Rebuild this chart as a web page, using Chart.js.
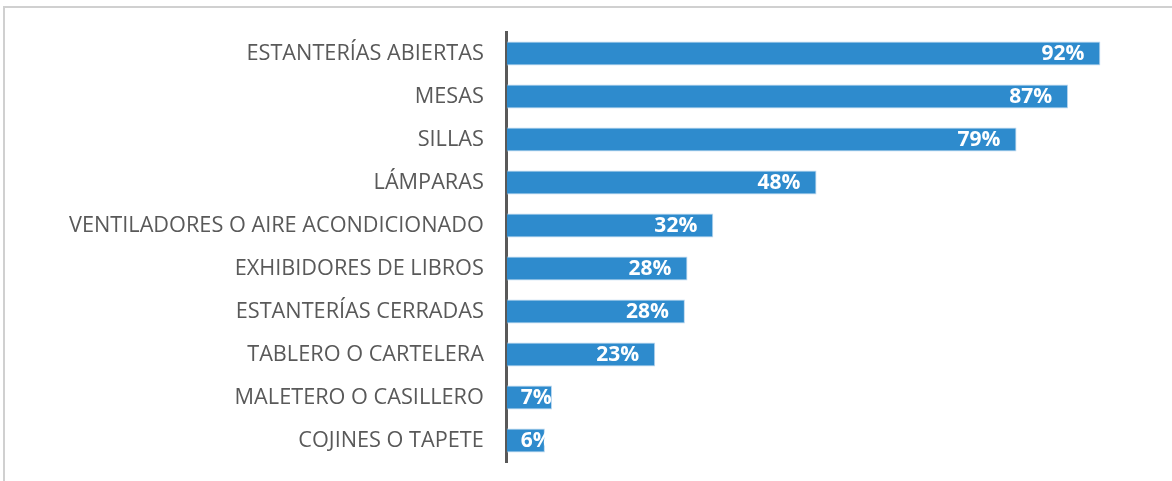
<!DOCTYPE html>
<html>
<head>
<meta charset="utf-8">
<script src="https://cdn.jsdelivr.net/npm/chart.js@4"></script>
<style>
  html, body { margin: 0; padding: 0; background: #fff; overflow: hidden; }
  #frame { position: absolute; left: 3px; top: 6px; width: 1200px; height: 500px;
           border-left: 2px solid #d0d0d0; border-top: 2px solid #d0d0d0; }
  #wrap { position: absolute; left: 0; top: 0; width: 1172px; height: 481px; }
</style>
</head>
<body>
<div id="frame"></div>
<div id="wrap"><canvas id="chart"></canvas></div>
<script>
// categorias y porcentajes
var categorias = [
  "ESTANTERÍAS ABIERTAS",
  "MESAS",
  "SILLAS",
  "LÁMPARAS",
  "VENTILADORES O AIRE ACONDICIONADO",
  "EXHIBIDORES DE LIBROS",
  "ESTANTERÍAS CERRADAS",
  "TABLERO O CARTELERA",
  "MALETERO O CASILLERO",
  "COJINES O TAPETE"
];
var valores = [92, 87, 79, 48, 32, 28, 27.6, 23, 7, 5.9];
var etiquetas = ["92%", "87%", "79%", "48%", "32%", "28%", "28%", "23%", "7%", "6%"];

// dibuja el % dentro del final de cada barra
var barLabels = {
  id: 'barLabels',
  afterDatasetsDraw: function (chart) {
    var ctx = chart.ctx;
    var meta = chart.getDatasetMeta(0);
    ctx.save();
    ctx.font = 'bold 21px "Open Sans"';
    ctx.fillStyle = '#ffffff';
    ctx.textAlign = 'right';
    ctx.textBaseline = 'middle';
    meta.data.forEach(function (bar, i) {
      var x = Math.max(bar.x - 16, bar.base + ctx.measureText(etiquetas[i]).width + 14);
      ctx.fillText(etiquetas[i], x, bar.y + 1);
    });
    ctx.restore();
  }
};

function dibujar() {
  new Chart(document.getElementById('chart'), {
    type: 'bar',
    data: {
      labels: categorias,
      datasets: [{
        data: valores,
        backgroundColor: '#2e8bcd',
        borderColor: '#bcd8ef',
        borderWidth: 1,
        borderSkipped: 'start',
        categoryPercentage: 0.56,
        barPercentage: 1
      }]
    },
    options: {
      indexAxis: 'y',
      responsive: true,
      maintainAspectRatio: false,
      animation: false,
      layout: { padding: { top: 32, bottom: 19, right: 20, left: 66 } },
      plugins: { legend: { display: false }, tooltip: { enabled: false } },
      scales: {
        x: {
          min: 0, max: 100,
          display: false
        },
        y: {
          // tickLength hace de separación entre texto y eje
          grid: { display: false, drawTicks: true, tickLength: 20 },
          border: { display: true, color: '#595959', width: 3 },
          ticks: {
            color: '#595959',
            padding: 3,
            font: { family: '"Open Sans"', size: 21.7 }
          }
        }
      }
    },
    plugins: [barLabels]
  });
}

Promise.all([
  document.fonts.load('21.7px "Open Sans"'),
  document.fonts.load('bold 21px "Open Sans"')
]).then(dibujar, dibujar);
</script>
</body>
</html>
